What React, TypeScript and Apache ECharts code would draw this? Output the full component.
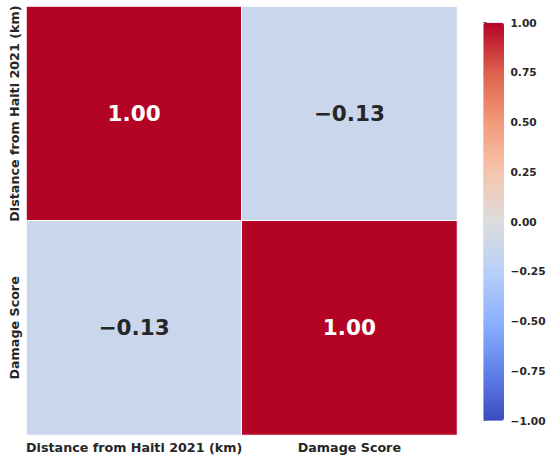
import React, { useEffect, useRef } from "react";
import * as echarts from "echarts";

const categories = ["Distance from Haiti 2021 (km)", "Damage Score"];
const matrix = [
  [1.0, -0.13],
  [-0.13, 1.0],
];
const colorbarTicks = [-1, -0.75, -0.5, -0.25, 0, 0.25, 0.5, 0.75, 1];
const coolwarm = [
  "#3b4cc0",
  "#6282ea",
  "#8db0fe",
  "#b8d0f9",
  "#dddddd",
  "#f5c4ac",
  "#f49a7b",
  "#dd604d",
  "#b40426",
];

const FONT = "DejaVu Sans";
const fmt = (v: number) => v.toFixed(2).replace("-", "\u2212");

export default function App() {
  const ref = useRef<HTMLDivElement>(null);
  useEffect(() => {
    if (!ref.current) return;
    const chart = echarts.init(ref.current, null, { renderer: "svg" });
    const data: any[] = [];
    matrix.forEach((row, yi) =>
      row.forEach((v, xi) => {
        data.push({
          value: [xi, yi, v],
          label: { color: v > 0.5 ? "#ffffff" : "#262626" },
        });
      })
    );
    chart.setOption({
      animation: false,
      backgroundColor: "#ffffff",
      grid: [
        { left: 26.5, top: 6.5, width: 430.5, height: 428.5 },
        { left: 483.3, top: 22.7, width: 20.7, height: 398 },
      ],
      xAxis: [
        {
          type: "category",
          gridIndex: 0,
          data: categories,
          axisLine: { show: false },
          axisTick: { show: false },
          splitLine: { show: false },
          axisLabel: {
            fontFamily: FONT,
            fontWeight: "bold",
            fontSize: 12.7,
            color: "#262626",
            margin: 6,
            interval: 0,
          },
        },
        {
          type: "value",
          gridIndex: 1,
          show: false,
        },
      ],
      yAxis: [
        {
          type: "category",
          gridIndex: 0,
          data: categories,
          inverse: true,
          axisLine: { show: false },
          axisTick: { show: false },
          splitLine: { show: false },
          axisLabel: {
            fontFamily: FONT,
            fontWeight: "bold",
            fontSize: 12.7,
            color: "#262626",
            rotate: 90,
            margin: 6,
            interval: 0,
          },
        },
        {
          type: "value",
          gridIndex: 1,
          position: "right",
          min: -1,
          max: 1,
          interval: 0.25,
          axisLine: { show: false },
          splitLine: { show: false },
          axisTick: {
            show: true,
            length: 3.5,
            lineStyle: { color: "#262626", width: 0.8 },
          },
          axisLabel: {
            fontFamily: FONT,
            fontWeight: "bold",
            fontSize: 10.6,
            color: "#262626",
            margin: 6.5,
            customValues: colorbarTicks,
            formatter: (v: number) => fmt(v),
          },
        },
      ],
      visualMap: {
        type: "continuous",
        min: -1,
        max: 1,
        seriesIndex: 0,
        calculable: false,
        hoverLink: false,
        left: 483.3,
        top: 22.7,
        itemWidth: 20.7,
        itemHeight: 398,
        padding: 0,
        text: null,
        showLabel: false,
        inRange: { color: coolwarm },
      },
      series: [
        {
          type: "heatmap",
          xAxisIndex: 0,
          yAxisIndex: 0,
          data,
          itemStyle: { borderColor: "#ffffff", borderWidth: 1 },
          emphasis: { disabled: true },
          label: {
            show: true,
            fontFamily: FONT,
            fontWeight: "bold",
            fontSize: 21.5,
            formatter: (p: any) => fmt(p.value[2]),
          },
        },
      ],
    });
    return () => chart.dispose();
  }, []);
  return (
    <div
      ref={ref}
      style={{ position: "fixed", left: 0, top: 0, width: 550, height: 459 }}
    />
  );
}
